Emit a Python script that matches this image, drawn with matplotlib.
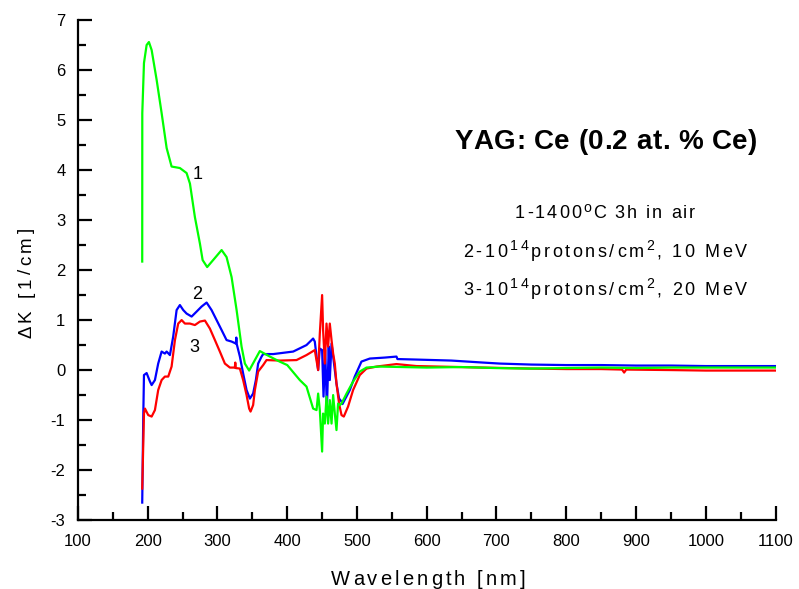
import matplotlib
matplotlib.use("Agg")
import matplotlib.pyplot as plt
from matplotlib.ticker import MultipleLocator
from matplotlib.font_manager import FontProperties
from matplotlib.transforms import IdentityTransform

plt.rcParams['font.family'] = ['Liberation Sans', 'DejaVu Sans']
plt.rcParams['axes.unicode_minus'] = False

# Curve 1 (green): 1400 C 3h in air
wl1 = [192.1, 192.2, 194.6, 198.4, 201.7, 205.6, 212.8, 219.9, 227.1, 234.2, 246.1, 255.7,
       260.5, 267.6, 274.8, 278.7, 285.2, 295.0, 305.9, 313.0, 320.2, 327.4, 334.5, 339.3,
       345.4, 353.6, 360.7, 375.1, 389.0, 400.0, 418.0, 427.6, 437.1, 442.0, 444.3, 446.7,
       450.0, 451.4, 453.9, 456.3, 458.6, 461.0, 463.5, 465.8, 468.2, 470.6, 472.9, 475.4,
       477.8, 485.0, 494.4, 504.0, 513.6, 532.7, 600.0, 650.0, 700.0, 747.6, 800.0, 850.0,
       900.0, 950.0, 1000.0, 1050.0, 1100.0]
k1 = [2.17, 5.14, 6.14, 6.50, 6.56, 6.40, 5.80, 5.14, 4.44, 4.07, 4.04, 3.94,
      3.73, 3.06, 2.53, 2.20, 2.06, 2.22, 2.40, 2.26, 1.86, 1.20, 0.47, 0.13,
      -0.01, 0.20, 0.38, 0.27, 0.17, 0.10, -0.20, -0.33, -0.77, -0.80, -0.47, -0.80,
      -1.63, -0.87, -1.07, -0.53, -1.07, -0.60, -1.07, -0.50, -0.87, -1.20, -0.67, -0.70,
      -0.67, -0.47, -0.23, -0.03, 0.05, 0.07, 0.05, 0.06, 0.04, 0.03, 0.04, 0.05,
      0.04, 0.05, 0.05, 0.05, 0.05]

# Curve 2 (blue): 1e14 protons/cm2, 10 MeV
wl2 = [192.1, 193.6, 194.6, 198.4, 203.2, 205.6, 210.3, 215.0, 219.9, 224.6, 227.1, 231.8,
       236.5, 241.4, 246.1, 250.9, 255.7, 262.9, 270.1, 277.2, 284.4, 291.5, 298.7, 305.9,
       313.0, 320.2, 326.4, 327.0, 327.6, 332.1, 336.8, 341.7, 346.4, 351.1, 355.0, 358.3,
       363.2, 365.5, 380.0, 408.5, 427.6, 437.1, 439.5, 444.3, 446.7, 450.0, 452.0, 454.5,
       456.8, 459.5, 461.0, 463.5, 468.2, 470.6, 474.3, 477.8, 479.2, 489.7, 496.8, 506.4,
       518.3, 540.0, 556.6, 558.0, 585.2, 635.4, 680.7, 704.6, 750.0, 800.0, 850.0, 900.0,
       950.0, 1000.0, 1050.0, 1100.0]
k2 = [-2.65, -0.93, -0.10, -0.06, -0.23, -0.30, -0.20, 0.13, 0.37, 0.33, 0.37, 0.30,
      0.67, 1.20, 1.30, 1.20, 1.13, 1.07, 1.17, 1.27, 1.35, 1.20, 1.00, 0.80,
      0.60, 0.57, 0.53, 0.65, 0.52, 0.27, -0.07, -0.40, -0.57, -0.47, -0.20, 0.13,
      0.27, 0.32, 0.32, 0.37, 0.50, 0.63, 0.57, 0.00, 0.43, 0.40, -0.53, 0.40,
      -0.80, 0.47, -0.20, 0.53, 0.00, -0.27, -0.57, -0.63, -0.68, -0.40, -0.13, 0.17,
      0.23, 0.25, 0.27, 0.22, 0.21, 0.19, 0.15, 0.13, 0.11, 0.10, 0.10, 0.09,
      0.09, 0.08, 0.08, 0.08]

# Curve 3 (red): 1e14 protons/cm2, 20 MeV
wl3 = [192.1, 194.6, 196.0, 200.7, 205.6, 210.3, 215.0, 219.9, 224.6, 229.4, 234.2, 239.0,
       243.7, 248.6, 253.3, 260.5, 267.6, 274.8, 282.0, 289.1, 296.3, 303.4, 310.6, 317.8,
       324.9, 325.5, 326.2, 332.1, 336.8, 341.7, 345.4, 347.4, 351.1, 353.6, 358.3, 365.5,
       370.3, 389.4, 413.3, 427.6, 439.5, 444.3, 446.7, 450.0, 451.4, 453.9, 456.3, 458.6,
       461.0, 463.5, 465.8, 468.2, 470.6, 474.3, 477.8, 481.1, 487.2, 494.4, 504.0, 513.6,
       527.9, 556.6, 585.2, 680.7, 750.0, 800.0, 850.0, 880.0, 883.0, 886.0, 950.0, 1000.0,
       1050.0, 1100.0]
k3 = [-2.37, -0.87, -0.77, -0.90, -0.93, -0.80, -0.40, -0.20, -0.13, -0.13, 0.07, 0.60,
      0.93, 1.00, 0.93, 0.93, 0.90, 0.97, 0.99, 0.83, 0.60, 0.37, 0.13, 0.05,
      0.05, 0.15, 0.04, 0.03, -0.20, -0.50, -0.77, -0.83, -0.70, -0.40, -0.03, 0.10,
      0.20, 0.19, 0.20, 0.30, 0.40, 0.00, 0.73, 1.50, 0.80, 0.13, 0.93, 0.47,
      0.93, 0.60, 0.33, 0.13, -0.27, -0.67, -0.90, -0.93, -0.73, -0.40, -0.10, 0.03,
      0.07, 0.12, 0.08, 0.05, 0.03, 0.02, 0.02, 0.01, -0.05, 0.01, 0.00, -0.01,
      -0.01, -0.01]

curve_labels = ["1", "2", "3"]
curve_label_pos = [(264, 3.82), (263, 1.42), (260, 0.36)]
title_text = "YAG: Ce (0.2 at. % Ce)"
# (text, superscript?) segments for each annotation line
legend_lines = [
    [("1-1400", False), ("o", True), ("C 3h in air", False)],
    [("2-10", False), ("14", True), ("protons/cm", False), ("2", True), (", 10 MeV", False)],
    [("3-10", False), ("14", True), ("protons/cm", False), ("2", True), (", 20 MeV", False)],
]
xlabel_text = "Wavelength [nm]"
ylabel_text = "ΔK [1/cm]"

W, H = 799, 589
fig = plt.figure(figsize=(W / 100, H / 100), dpi=100)
ax = fig.add_axes([0.0976, 0.117, 0.873, 0.849])

ax.plot(wl2, k2, color='#0000FF', lw=1.6)
ax.plot(wl3, k3, color='#FF0000', lw=1.6)
ax.plot(wl1, k1, color='#00FF00', lw=1.6)

ax.set_xlim(100, 1100)
ax.set_ylim(-3, 7)
ax.xaxis.set_major_locator(MultipleLocator(100))
ax.xaxis.set_minor_locator(MultipleLocator(50))
ax.yaxis.set_major_locator(MultipleLocator(1))
ax.yaxis.set_minor_locator(MultipleLocator(0.5))
ax.tick_params(which='major', direction='in', length=10, width=1.6, labelsize=12)
ax.tick_params(axis='x', which='major', pad=10)
ax.tick_params(axis='y', which='major', pad=9)
ax.tick_params(which='minor', direction='in', length=6, width=1.6)
for s in ['top', 'right']:
    ax.spines[s].set_visible(False)
for s in ['left', 'bottom']:
    ax.spines[s].set_linewidth(1.6)

for lab, (lx, ly) in zip(curve_labels, curve_label_pos):
    ax.text(lx, ly, lab, fontsize=13)

renderer = fig.canvas.get_renderer()


def adv(ch, prop):
    wb = renderer.get_text_width_height_descent("||", prop, ismath=False)[0]
    w = renderer.get_text_width_height_descent("|" + ch + "|", prop, ismath=False)[0]
    return w - wb


def tracked(segments, size, cx, base, target_w, weight='normal', rotate=False,
            sup_scale=0.78, sup_raise=6.5):
    """Draw letter-spaced text centred at cx (display px) on baseline base."""
    items = []
    for txt, sup in segments:
        fs = size * sup_scale if sup else size
        prop = FontProperties(family='Liberation Sans', size=fs, weight=weight)
        for ch in txt:
            items.append((ch, prop, sup, adv(ch, prop)))
    natural = sum(i[3] for i in items)
    n = len(items)
    track = (target_w - natural) / max(n - 1, 1)
    pos = cx - target_w / 2.0
    for ch, prop, sup, w in items:
        off = sup_raise if sup else 0.0
        if ch != ' ':
            if rotate:
                fig.text(base - off, pos, ch, fontproperties=prop, rotation=90,
                         rotation_mode='anchor', ha='left', va='baseline',
                         transform=IdentityTransform())
            else:
                fig.text(pos, base + off, ch, fontproperties=prop, ha='left',
                         va='baseline', transform=IdentityTransform())
        pos += w + track


tracked([(title_text, False)], 20, 606, H - 149, 303, weight='bold')
legend_bases = [218, 257, 295]
legend_widths = [180, 284, 284]
for segs, b, tw in zip(legend_lines, legend_bases, legend_widths):
    tracked(segs, 13, 605, H - b, tw)
tracked([(xlabel_text, False)], 14.5, 428, H - 585, 195)
tracked([(ylabel_text, False)], 13.5, H - 283, 31, 110, rotate=True)

fig.savefig("out.png", dpi=100)
